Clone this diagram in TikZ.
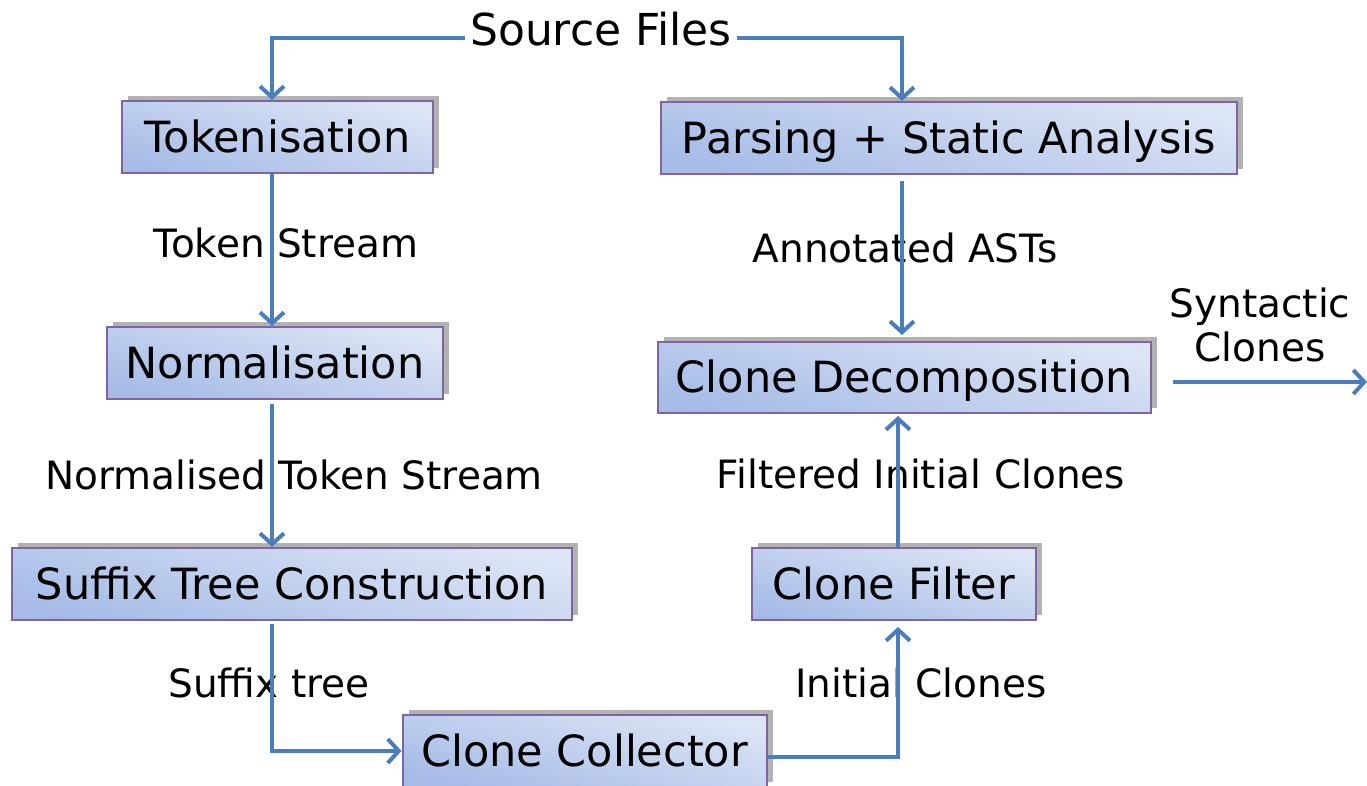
\documentclass[tikz,border=0pt]{standalone}
\usepackage{fontspec}
\setmainfont{DejaVu Sans}
\usetikzlibrary{arrows.meta,shadows}
\definecolor{boxlight}{HTML}{DDE5F5}
\definecolor{boxdark}{HTML}{A6BCE7}
\definecolor{boxborder}{HTML}{8064A2}
\definecolor{arrowblue}{HTML}{4A7EBB}
\newcommand\boxfont{\fontsize{43}{50}\selectfont}
\newcommand\srcfont{\fontsize{44}{50}\selectfont}
\newcommand\labfont{\fontsize{39}{44}\selectfont}
\tikzset{
  stagebox/.style={draw=boxborder, line width=2pt, rectangle,
    top color=boxlight, bottom color=boxdark, shading angle=-15,
    drop shadow={shadow xshift=6pt, shadow yshift=5pt, fill=black!30, opacity=1},
    font=\boxfont, text height=31pt, text depth=0pt, inner sep=0pt,
    minimum height=72pt},
  lab/.style={font=\labfont, anchor=base, inner sep=0pt},
  arr/.style={draw=arrowblue, line width=4pt,
    -{Straight Barb[length=11pt,width=24pt,line width=4pt]}},
}
\begin{document}
\begin{tikzpicture}[x=1pt,y=1pt]
\useasboundingbox (0,0) rectangle (1367,786);
% nodes
\node[stagebox, minimum width=311pt] (tok) at (277.5,649) {Tokenisation};
\node[stagebox, minimum width=576pt] (parse) at (949,648) {Parsing + Static Analysis};
\node[stagebox, minimum width=336pt] (norm) at (275,423) {Normalisation};
\node[stagebox, minimum width=493pt, minimum height=71pt] (cd) at (904.5,408.5) {Clone Decomposition};
\node[stagebox, minimum width=560pt] (suf) at (292,202) {Suffix Tree Construction};
\node[stagebox, minimum width=284pt] (cf) at (894,202) {Clone Filter};
\node[stagebox, minimum width=364pt] (cc) at (584.5,35) {Clone Collector};
% labels
\node[lab, font=\srcfont] (src) at (601,740) {Source Files};
\node[lab] (l1) at (286,528) {Token Stream};
\node[lab] (l2) at (905,523) {Annotated ASTs};
\node[lab] (l3) at (294,296) {Normalised Token Stream};
\node[lab] (l4) at (921,297) {Filtered Initial Clones};
\node[lab] (l5) at (269,88) {Suffix tree};
\node[lab] (l6) at (921,88) {Initial Clones};
\node[lab, align=center] (l7) at (1260,424) {Syntactic\\Clones};
% coordinates
\coordinate (xL) at (272,0);
\coordinate (xR1) at (902,0);
\coordinate (xR2) at (898,0);
\coordinate (srcL) at (465,748);
\coordinate (srcR) at (737,748);
\coordinate (synEnd) at (1367,404);
% connectors
\draw[arr] (srcL) -| (tok.north -| xL);
\draw[arr] (srcR) -| (parse.north -| xR1);
\draw[arr] (tok.south -| xL) -- (norm.north -| xL);
\draw[arr, shorten <=4pt] (norm.south -| xL) -- (suf.north -| xL);
\draw[arr, shorten <=3pt] (suf.south -| xL) |- (cc.west);
\draw[arr, shorten >=6pt] ([yshift=-6pt]cc.east) -| (cf.south -| xR2);
\draw[arr, shorten >=2pt] (cf.north -| xR2) -- (cd.south -| xR2);
\draw[arr, shorten <=6pt, shorten >=6pt] (parse.south -| xR1) -- (cd.north -| xR1);
\draw[arr, shorten <=21pt] ([yshift=-4.5pt]cd.east) -- (synEnd);
\end{tikzpicture}
\end{document}
